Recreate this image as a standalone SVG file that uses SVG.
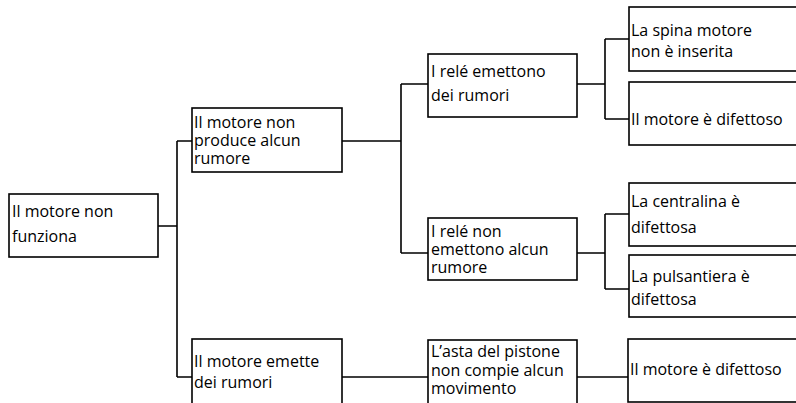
<svg xmlns="http://www.w3.org/2000/svg" width="796" height="403" viewBox="0 0 796 403">
<style>
.box{fill:#fff;stroke:#000;stroke-width:1.6}
.lbl{font-family:"Open Sans","Lato",sans-serif;font-size:16px;fill:#000}
.conn{fill:none;stroke:#000;stroke-width:1.6}
</style>
<rect width="796" height="403" fill="#fff"/>
<g id="connectors">
<path class="conn" d="M158,226H177M177,141V377M177,141H192M177,377H192"/>
<path class="conn" d="M342,141H401M401,84V253M401,84H428M401,253H428"/>
<path class="conn" d="M577,84H605M605,39V119M605,39H629M605,119H629"/>
<path class="conn" d="M577,253H605M605,214V289M605,214H629M605,289H629"/>
<path class="conn" d="M342,377H428M577,377H628"/>
</g>
<g id="n1"><rect class="box" x="9" y="194" width="149" height="63"/><text class="lbl"><tspan x="12" y="217">Il motore non</tspan><tspan x="12" y="242">funziona</tspan></text></g>
<g id="n2"><rect class="box" x="192" y="108" width="150" height="64"/><text class="lbl"><tspan x="194" y="128">Il motore non</tspan><tspan x="194" y="146">produce alcun</tspan><tspan x="194" y="164">rumore</tspan></text></g>
<g id="n3"><rect class="box" x="428" y="54" width="149" height="63"/><text class="lbl"><tspan x="431" y="77">I relé emettono</tspan><tspan x="431" y="101">dei rumori</tspan></text></g>
<g id="n4"><rect class="box" x="629" y="7" width="180" height="64"/><text class="lbl"><tspan x="631" y="36">La spina motore</tspan><tspan x="631" y="57">non è inserita</tspan></text></g>
<g id="n5"><rect class="box" x="629" y="82" width="180" height="63"/><text class="lbl" x="631" y="125">Il motore è difettoso</text></g>
<g id="n6"><rect class="box" x="428" y="218" width="149" height="62"/><text class="lbl"><tspan x="431" y="237">I relé non</tspan><tspan x="431" y="255">emettono alcun</tspan><tspan x="431" y="273">rumore</tspan></text></g>
<g id="n7"><rect class="box" x="629" y="183" width="180" height="63"/><text class="lbl"><tspan x="631" y="207">La centralina è</tspan><tspan x="631" y="233">difettosa</tspan></text></g>
<g id="n8"><rect class="box" x="629" y="255" width="180" height="62"/><text class="lbl"><tspan x="631" y="282">La pulsantiera è</tspan><tspan x="631" y="305">difettosa</tspan></text></g>
<g id="n9"><rect class="box" x="192" y="339" width="150" height="70"/><text class="lbl"><tspan x="194" y="367">Il motore emette</tspan><tspan x="194" y="388">dei rumori</tspan></text></g>
<g id="n10"><rect class="box" x="428" y="340" width="149" height="70"/><text class="lbl"><tspan x="431" y="357">L’asta del pistone</tspan><tspan x="431" y="376">non compie alcun</tspan><tspan x="431" y="394">movimento</tspan></text></g>
<g id="n11"><rect class="box" x="628" y="339" width="180" height="63"/><text class="lbl" x="630" y="375">Il motore è difettoso</text></g>
</svg>
